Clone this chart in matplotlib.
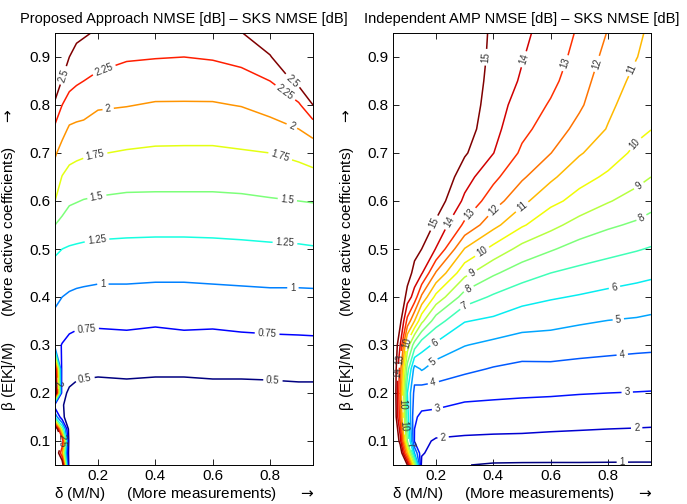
import numpy as np
import matplotlib
matplotlib.use("Agg")
import matplotlib.pyplot as plt

plt.rcParams['font.family'] = ['Liberation Sans', 'DejaVu Sans']
plt.rcParams['mathtext.fontset'] = 'dejavusans'

# ---- left panel: proposed approach - SKS (dB) ----
delta_prop = [0.05, 0.075, 0.1, 0.125, 0.15, 0.2, 0.3, 0.4, 0.5, 0.6, 0.7, 0.8, 0.9, 0.95]
beta_prop = [0.05, 0.075, 0.1, 0.125, 0.15, 0.175, 0.2, 0.25, 0.3, 0.35, 0.4, 0.45,
             0.5, 0.55, 0.6, 0.65, 0.7, 0.75, 0.8, 0.85, 0.9, 0.95]
nmse_prop = [
    [3.0, 2.8, 0.28, 0.22, 0.2, 0.2, 0.2, 0.2, 0.2, 0.2, 0.2, 0.2, 0.2, 0.2],
    [3.0, 2.0, 0.3, 0.25, 0.23, 0.23, 0.23, 0.23, 0.23, 0.23, 0.23, 0.23, 0.23, 0.23],
    [3.0, 2.5, 0.32, 0.28, 0.27, 0.27, 0.27, 0.27, 0.27, 0.27, 0.27, 0.27, 0.27, 0.27],
    [3.0, 1.5, 0.35, 0.31, 0.3, 0.3, 0.3, 0.3, 0.3, 0.3, 0.3, 0.3, 0.3, 0.3],
    [1.2, 0.55, 0.38, 0.34, 0.33, 0.33, 0.33, 0.33, 0.33, 0.33, 0.33, 0.33, 0.33, 0.33],
    [0.6, 0.52, 0.42, 0.38, 0.37, 0.37, 0.37, 0.37, 0.37, 0.37, 0.37, 0.37, 0.37, 0.37],
    [3.0, 0.55, 0.47, 0.44, 0.43, 0.42, 0.43, 0.42, 0.42, 0.43, 0.43, 0.43, 0.44, 0.44],
    [2.6, 0.6, 0.59, 0.56, 0.55, 0.54, 0.55, 0.54, 0.54, 0.55, 0.55, 0.56, 0.57, 0.57],
    [0.82, 0.74, 0.69, 0.67, 0.67, 0.66, 0.67, 0.66, 0.67, 0.67, 0.68, 0.69, 0.7, 0.7],
    [0.94, 0.87, 0.82, 0.8, 0.79, 0.79, 0.8, 0.78, 0.8, 0.79, 0.81, 0.82, 0.82, 0.83],
    [1.05, 1.0, 0.97, 0.95, 0.94, 0.93, 0.93, 0.92, 0.92, 0.93, 0.94, 0.95, 0.95, 0.95],
    [1.16, 1.12, 1.1, 1.09, 1.08, 1.06, 1.06, 1.05, 1.05, 1.06, 1.07, 1.08, 1.08, 1.09],
    [1.29, 1.25, 1.23, 1.22, 1.21, 1.2, 1.19, 1.18, 1.18, 1.19, 1.2, 1.21, 1.22, 1.23],
    [1.5, 1.44, 1.38, 1.36, 1.35, 1.33, 1.32, 1.32, 1.32, 1.32, 1.33, 1.35, 1.36, 1.38],
    [1.75, 1.6, 1.53, 1.51, 1.49, 1.47, 1.45, 1.45, 1.45, 1.45, 1.46, 1.48, 1.5, 1.51],
    [1.89, 1.74, 1.68, 1.65, 1.64, 1.62, 1.59, 1.58, 1.58, 1.58, 1.59, 1.62, 1.65, 1.68],
    [2.03, 1.91, 1.82, 1.8, 1.78, 1.76, 1.73, 1.71, 1.71, 1.71, 1.73, 1.75, 1.81, 1.86],
    [2.2, 2.08, 1.97, 1.95, 1.94, 1.89, 1.87, 1.85, 1.84, 1.84, 1.86, 1.92, 2.0, 2.09],
    [2.45, 2.25, 2.15, 2.12, 2.1, 2.03, 2.01, 1.98, 1.98, 1.98, 2.01, 2.08, 2.21, 2.5],
    [2.7, 2.48, 2.33, 2.28, 2.25, 2.19, 2.12, 2.12, 2.11, 2.12, 2.16, 2.25, 2.58, 2.85],
    [2.9, 2.7, 2.5, 2.42, 2.39, 2.34, 2.28, 2.26, 2.25, 2.27, 2.32, 2.48, 2.85, 3.1],
    [3.1, 2.9, 2.65, 2.56, 2.53, 2.47, 2.42, 2.39, 2.38, 2.41, 2.49, 2.7, 3.1, 3.3],
]
levels_prop = [0.5, 0.75, 1.0, 1.25, 1.5, 1.75, 2.0, 2.25, 2.5]

# ---- right panel: independent AMP - SKS (dB) ----
delta_amp = [0.05, 0.075, 0.1, 0.125, 0.15, 0.2, 0.3, 0.4, 0.5, 0.6, 0.7, 0.8, 0.9, 0.95]
beta_amp = [0.05, 0.075, 0.1, 0.15, 0.2, 0.25, 0.3, 0.35, 0.4, 0.45, 0.5,
            0.55, 0.6, 0.65, 0.7, 0.75, 0.8, 0.85, 0.9, 0.95]
nmse_amp = [
    [18, 17, 15, 9, 1.6, 1.03, 1.02, 0.93, 0.92, 0.92, 0.92, 0.92, 0.92, 0.92],
    [18, 16.2, 11, 5, 2.15, 1.45, 1.4, 1.35, 1.32, 1.3, 1.3, 1.27, 1.25, 1.25],
    [17.5, 14.5, 8, 2.9, 2.2, 1.9, 1.85, 1.8, 1.77, 1.73, 1.7, 1.65, 1.62, 1.6],
    [17, 12.5, 6.5, 3.1, 2.85, 2.7, 2.5, 2.5, 2.5, 2.43, 2.38, 2.35, 2.32, 2.3],
    [17, 12, 6.0, 3.7, 3.45, 3.6, 3.3, 3.2, 3.13, 3.1, 3.04, 3.0, 2.97, 2.95],
    [17, 12.5, 7.5, 4.6, 5.1, 4.5, 4.2, 3.93, 3.75, 3.76, 3.69, 3.64, 3.59, 3.57],
    [16.5, 14, 9.6, 7.5, 6.4, 5.8, 5.04, 4.75, 4.54, 4.55, 4.4, 4.3, 4.22, 4.19],
    [17.5, 15.3, 12.7, 11.0, 9.25, 7.45, 6.05, 5.8, 5.42, 5.28, 5.12, 4.98, 4.9, 4.82],
    [18, 16.3, 14.5, 13.6, 11.8, 9.7, 7.55, 6.85, 6.36, 6.1, 5.92, 5.73, 5.58, 5.49],
    [18, 16.8, 15.6, 14.6, 14.1, 11.9, 9.3, 8.15, 7.45, 7.0, 6.73, 6.5, 6.3, 6.19],
    [18, 17.2, 16.2, 15.4, 15.0, 13.95, 10.95, 9.7, 8.67, 8.1, 7.6, 7.32, 7.07, 6.93],
    [18, 17.5, 16.6, 16.0, 15.8, 14.8, 12.8, 11.3, 10.12, 9.3, 8.6, 8.15, 7.85, 7.63],
    [18, 17.8, 17.0, 16.4, 16.3, 15.6, 13.8, 12.45, 11.26, 10.25, 9.68, 9.07, 8.6, 8.33],
    [18, 18, 17.3, 16.8, 16.7, 16.1, 14.4, 13.25, 12.14, 11.2, 10.3, 9.86, 9.3, 9.0],
    [18, 18, 17.5, 17.1, 17.0, 16.5, 15.12, 14.02, 12.83, 12.02, 11.1, 10.4, 9.82, 9.52],
    [18, 18, 17.7, 17.4, 17.3, 16.8, 15.5, 14.3, 13.25, 12.55, 11.7, 10.94, 10.2, 10.02],
    [18, 18, 17.8, 17.6, 17.5, 17.0, 15.7, 14.45, 13.58, 12.9, 12.15, 11.2, 10.5, 10.3],
    [18, 18, 17.9, 17.7, 17.6, 17.2, 15.9, 14.55, 13.9, 13.25, 12.4, 11.45, 10.75, 10.55],
    [18, 18, 18, 17.8, 17.7, 17.3, 16.05, 14.65, 14.05, 13.5, 12.65, 11.7, 11.02, 10.72],
    [18, 18, 18, 17.9, 17.8, 17.4, 16.2, 14.7, 14.15, 13.7, 12.85, 11.95, 11.15, 10.85],
]
levels_amp = list(range(1, 16))

# where the inline contour labels sit (layout only)
prop_label_pos = [(0.078, 0.862), (0.88, 0.852), (0.22, 0.875), (0.852, 0.825),
                  (0.235, 0.794), (0.877, 0.757), (0.19, 0.696), (0.835, 0.692),
                  (0.196, 0.609), (0.86, 0.6), (0.196, 0.52), (0.852, 0.51),
                  (0.217, 0.426), (0.88, 0.416), (0.16, 0.333), (0.79, 0.325),
                  (0.155, 0.229), (0.81, 0.225), (0.06, 0.22), (0.075, 0.1)]
amp_label_pos = [(0.366, 0.90), (0.513, 0.894), (0.647, 0.888), (0.776, 0.883),
                 (0.892, 0.873), (0.19, 0.555), (0.243, 0.557), (0.32, 0.572),
                 (0.40, 0.582), (0.503, 0.586), (0.36, 0.495), (0.90, 0.717),
                 (0.323, 0.453), (0.91, 0.63), (0.313, 0.418), (0.917, 0.565),
                 (0.30, 0.382), (0.197, 0.305), (0.822, 0.422), (0.187, 0.266),
                 (0.836, 0.353), (0.19, 0.224), (0.85, 0.278), (0.205, 0.168),
                 (0.867, 0.202), (0.225, 0.106), (0.9, 0.127), (0.85, 0.058),
                 (0.099, 0.305), (0.078, 0.27), (0.067, 0.243), (0.085, 0.177),
                 (0.09, 0.131), (0.11, 0.093)]

titles = ["Proposed Approach NMSE [dB] \u2013 SKS NMSE [dB]",
          "Independent AMP NMSE [dB] \u2013 SKS NMSE [dB]"]
xlab = "\u03b4 (M/N)     (More measurements)     $\\rightarrow$"
ylab = "\u03b2 (E[K]/M)      (More active coefficients)     $\\rightarrow$"


def draw_panel(ax, dx, by, z, levels, label_pos, title):
    X, Y = np.meshgrid(dx, by)
    Z = np.array(z, dtype=float)
    cs = ax.contour(X, Y, Z, levels=levels, cmap='jet',
                    vmin=min(levels), vmax=max(levels), linewidths=1.1)
    ax.clabel(cs, manual=label_pos, inline=True, fontsize=7,
              colors='#333333', fmt=lambda v: '%g' % v, inline_spacing=3)
    ax.set_xlim(0.05, 0.95)
    ax.set_ylim(0.05, 0.95)
    ax.set_xticks([0.2, 0.4, 0.6, 0.8])
    ax.set_yticks([0.1, 0.2, 0.3, 0.4, 0.5, 0.6, 0.7, 0.8, 0.9])
    ax.tick_params(direction='in', length=4, width=0.6, labelsize=11,
                   top=True, right=True, pad=3)
    for s in ax.spines.values():
        s.set_linewidth(0.7)
    ax.set_title(title, fontsize=10.5, pad=7)
    ax.set_xlabel(xlab, fontsize=11, labelpad=1)
    ax.set_ylabel(ylab, fontsize=11, labelpad=4)
    ax.yaxis.set_label_coords(-0.145, 0.475)


fig = plt.figure(figsize=(6.87, 5.04), dpi=100)
ax1 = fig.add_axes([55 / 687, 1 - 465 / 504, 258 / 687, 432 / 504])
ax2 = fig.add_axes([393 / 687, 1 - 465 / 504, 258 / 687, 432 / 504])

draw_panel(ax1, delta_prop, beta_prop, nmse_prop, levels_prop, prop_label_pos, titles[0])
draw_panel(ax2, delta_amp, beta_amp, nmse_amp, levels_amp, amp_label_pos, titles[1])

fig.savefig("out.png", dpi=100)
